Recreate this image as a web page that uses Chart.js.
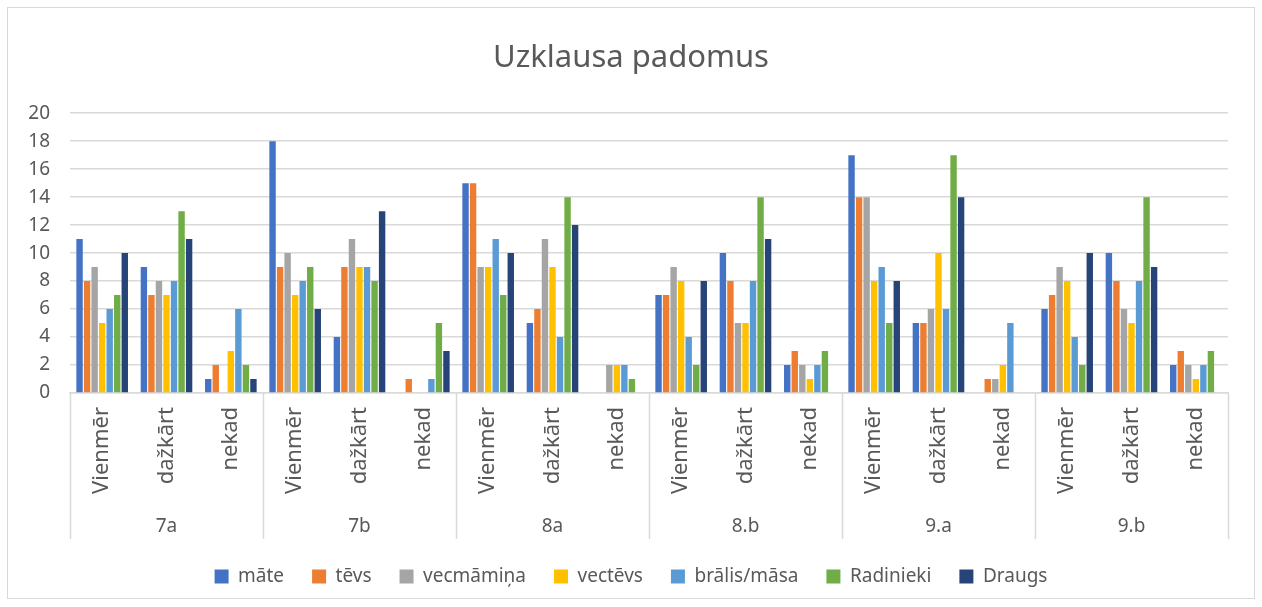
<!DOCTYPE html>
<html>
<head>
<meta charset="utf-8">
<script src="https://cdn.jsdelivr.net/npm/chart.js@4.4.0/dist/chart.umd.min.js"></script>
<style>
  html, body { margin: 0; padding: 0; background: #fff; }
  #wrap { width: 1262px; height: 607px; position: relative; }
</style>
</head>
<body>
<div id="wrap"><canvas id="padomiChart"></canvas></div>
<script>
// klases un atbildes (divlīmeņu X ass)
const klases = ['7a', '7b', '8a', '8.b', '9.a', '9.b'];
const atbildes = ['Vienmēr', 'dažkārt', 'nekad'];

// vērtības pa kategorijām: 7a(V,d,n), 7b(V,d,n), ...
const mate      = [11, 9, 1,  18, 4, 0,  15, 5, 0,  7, 10, 2,  17, 5, 0,  6, 10, 2];
const tevs      = [8, 7, 2,   9, 9, 1,   15, 6, 0,  7, 8, 3,   14, 5, 1,  7, 8, 3];
const vecmamina = [9, 8, 0,   10, 11, 0, 9, 11, 2,  9, 5, 2,   14, 6, 1,  9, 6, 2];
const vectevs   = [5, 7, 3,   7, 9, 0,   9, 9, 2,   8, 5, 1,   8, 10, 2,  8, 5, 1];
const bralis    = [6, 8, 6,   8, 9, 1,   11, 4, 2,  4, 8, 2,   9, 6, 5,   4, 8, 2];
const radinieki = [7, 13, 2,  9, 8, 5,   7, 14, 1,  2, 14, 3,  5, 17, 0,  2, 14, 3];
const draugs    = [10, 11, 1, 6, 13, 3,  10, 12, 0, 8, 11, 0,  8, 14, 0,  10, 9, 0];

const etiketes = [];
klases.forEach(function() { atbildes.forEach(function(a) { etiketes.push(a); }); });

const FONT = '"Noto Sans", "Liberation Sans", sans-serif';
const TEKSTS = '#595959';
const REZGIS = '#d9d9d9';

// rāmis ap visu diagrammu
const ramis = {
  id: 'ramis',
  beforeDraw: function(chart) {
    const c = chart.ctx;
    c.save();
    c.fillStyle = '#fff';
    c.fillRect(0, 0, chart.width, chart.height);
    c.strokeStyle = REZGIS;
    c.lineWidth = 1;
    c.strokeRect(7.5, 7.5, chart.width - 15, chart.height - 16);
    c.restore();
  }
};

// klašu nosaukumi un atdalītāji zem ass
const grupas = {
  id: 'grupas',
  afterDraw: function(chart) {
    const x = chart.scales.x;
    const c = chart.ctx;
    const w = x.width / etiketes.length;
    c.save();
    c.strokeStyle = REZGIS;
    c.lineWidth = 1.5;
    for (let g = 0; g <= klases.length; g++) {
      const px = Math.round(x.left + g * atbildes.length * w) + 0.5;
      c.beginPath();
      c.moveTo(px, x.top);
      c.lineTo(px, x.bottom);
      c.stroke();
    }
    c.fillStyle = TEKSTS;
    c.font = '19px ' + FONT;
    c.textAlign = 'center';
    c.textBaseline = 'middle';
    klases.forEach(function(k, g) {
      c.fillText(k, x.getPixelForValue(g * atbildes.length + 1), x.bottom - 12);
    });
    c.restore();
  }
};

new Chart(document.getElementById('padomiChart'), {
  type: 'bar',
  data: {
    labels: etiketes,
    datasets: [
      { label: 'māte', data: mate, backgroundColor: '#4472C4' },
      { label: 'tēvs', data: tevs, backgroundColor: '#ED7D31' },
      { label: 'vecmāmiņa', data: vecmamina, backgroundColor: '#A5A5A5' },
      { label: 'vectēvs', data: vectevs, backgroundColor: '#FFC000' },
      { label: 'brālis/māsa', data: bralis, backgroundColor: '#5B9BD5' },
      { label: 'Radinieki', data: radinieki, backgroundColor: '#70AD47' },
      { label: 'Draugs', data: draugs, backgroundColor: '#264478' }
    ]
  },
  options: {
    responsive: true,
    maintainAspectRatio: false,
    animation: false,
    datasets: { bar: { categoryPercentage: 0.82, barPercentage: 0.85 } },
    layout: { padding: { left: 0, right: 0, top: 0, bottom: 11 } },
    scales: {
      x: {
        grid: { display: false, drawTicks: false },
        border: { color: REZGIS, width: 1.5 },
        ticks: {
          autoSkip: false, maxRotation: 90, minRotation: 90,
          color: TEKSTS, padding: 14,
          font: { family: FONT, size: 22 }
        },
        afterFit: function(s) { s.height = 146; }
      },
      y: {
        min: 0, max: 20,
        grid: { color: REZGIS, lineWidth: 1.5, drawTicks: false },
        border: { display: false },
        ticks: {
          stepSize: 2, color: TEKSTS, padding: 20,
          font: { family: FONT, size: 19 }
        },
        afterFit: function(s) { s.width = 70; }
      },
      // tukša ass labajā pusē, lai atstātu atstarpi
      labaMala: {
        position: 'right',
        grid: { display: false },
        border: { display: false },
        ticks: { display: false },
        afterFit: function(s) { s.width = 34; }
      }
    },
    plugins: {
      title: {
        display: true,
        text: 'Uzklausa padomus',
        color: TEKSTS,
        font: { family: FONT, size: 31, weight: 'normal' },
        padding: { top: 40, bottom: 36 }
      },
      legend: {
        position: 'bottom',
        labels: {
          boxWidth: 14, boxHeight: 14, padding: 28,
          color: TEKSTS,
          font: { family: FONT, size: 19 }
        }
      },
      tooltip: { enabled: false }
    }
  },
  plugins: [ramis, grupas]
});
</script>
</body>
</html>
